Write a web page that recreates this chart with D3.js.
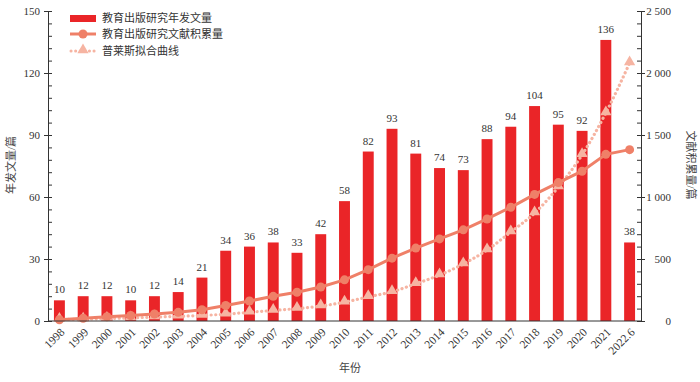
<!DOCTYPE html>
<html>
<head>
<meta charset="utf-8">
<script src="https://cdn.jsdelivr.net/npm/d3@7"></script>
<style>
  body { margin: 0; background: #fff; }
  svg { display: block; }
  text { font-family: "Liberation Serif", "Noto Sans CJK SC", serif; fill: #333; }
</style>
</head>
<body>
<svg id="chart" width="700" height="382"></svg>
<script>
// years on the x axis
var years = ["1998","1999","2000","2001","2002","2003","2004","2005","2006","2007","2008","2009","2010",
  "2011","2012","2013","2014","2015","2016","2017","2018","2019","2020","2021","2022.6"]
// papers published per year
var yearly = [10,12,12,10,12,14,21,34,36,38,33,42,58,82,93,81,74,73,88,94,104,95,92,136,38]
// cumulative papers
var cumulative = [10,22,34,44,56,70,91,125,161,199,232,274,332,414,507,588,662,735,823,917,1021,1116,1208,1344,1382]
// pearl curve fit
var pearl = [12,15,20,25,32,38,45,55,70,85,100,120,152,195,236,300,370,460,572,718,870,1080,1340,1678,2080]

var leftTicks = [0,30,60,90,120,150]
var rightTicks = [0,500,1000,1500,2000,2500]

var legendNames = ["教育出版研究年发文量", "教育出版研究文献积累量", "普莱斯拟合曲线"]

var barColor = "#ea2528"
var lineColor = "#ef8068"
var pearlColor = "#f6b4a2"

var svg = d3.select("#chart")
// plot edges (don't call these top/left - window.top is read only)
var pL = 48, pR = 641, pT = 11, pB = 321

var x = d3.scaleBand().domain(years).range([pL, pR]).paddingInner(0.54).paddingOuter(0.25)
var yL = d3.scaleLinear().domain([0, 150]).range([pB, pT])
var yR = d3.scaleLinear().domain([0, 2500]).range([pB, pT])
var cx = function(d) { return x(d) + x.bandwidth() / 2 }

// bars
svg.append("g").selectAll("rect")
  .data(yearly)
  .join("rect")
  .attr("x", function(d, i) { return x(years[i]) })
  .attr("y", function(d) { return yL(d) })
  .attr("width", x.bandwidth())
  .attr("height", function(d) { return pB - yL(d) })
  .attr("fill", barColor)

// value labels above the bars
svg.append("g").selectAll("text")
  .data(yearly)
  .join("text")
  .attr("x", function(d, i) { return cx(years[i]) })
  .attr("y", function(d) { return yL(d) - 7 })
  .attr("text-anchor", "middle")
  .style("font-size", "11px")
  .text(function(d) { return d })

// pearl curve - dotted
var pearlLine = d3.line().x(function(d, i) { return cx(years[i]) }).y(function(d) { return yR(d) }).curve(d3.curveMonotoneX)
svg.append("path")
  .attr("d", pearlLine(pearl))
  .attr("fill", "none")
  .attr("stroke", pearlColor)
  .attr("stroke-width", 3.2)
  .attr("stroke-linecap", "round")
  .attr("stroke-dasharray", "0.1,4.5")
svg.append("g").selectAll("path")
  .data(pearl)
  .join("path")
  .attr("d", d3.symbol().type(d3.symbolTriangle).size(55))
  .attr("transform", function(d, i) { return "translate(" + cx(years[i]) + "," + (yR(d) - 1) + ")" })
  .attr("fill", pearlColor)

// cumulative line
var cumLine = d3.line().x(function(d, i) { return cx(years[i]) }).y(function(d) { return yR(d) })
svg.append("path")
  .attr("d", cumLine(cumulative))
  .attr("fill", "none")
  .attr("stroke", lineColor)
  .attr("stroke-width", 3)
svg.append("g").selectAll("circle")
  .data(cumulative)
  .join("circle")
  .attr("cx", function(d, i) { return cx(years[i]) })
  .attr("cy", function(d) { return yR(d) })
  .attr("r", 4.5)
  .attr("fill", lineColor)

// axes
var leftAxis = svg.append("g").attr("transform", "translate(" + pL + ",0)")
leftAxis.call(d3.axisLeft(yL).tickValues(d3.range(0, 151, 6)).tickSize(0).tickFormat(""))
leftAxis.selectAll(".tick line").remove()
leftAxis.select(".domain").attr("stroke", "#333")
leftAxis.selectAll(".tick").append("line")
  .attr("x1", function(d) { return leftTicks.indexOf(d) >= 0 ? -4 : 0 })
  .attr("x2", 4).attr("stroke", "#333")
leftAxis.selectAll(".tick").filter(function(d) { return leftTicks.indexOf(d) >= 0 })
  .append("text").attr("x", -8).attr("dy", "0.35em").attr("text-anchor", "end")
  .style("font-size", "11px").text(function(d) { return d })

var fmt = function(d) { return d3.format(",")(d).replace(",", " ") }
var rightAxis = svg.append("g").attr("transform", "translate(" + pR + ",0)")
rightAxis.call(d3.axisRight(yR).tickValues(d3.range(0, 2501, 100)).tickSize(0).tickFormat(""))
rightAxis.selectAll(".tick line").remove()
rightAxis.select(".domain").attr("stroke", "#333")
rightAxis.selectAll(".tick").append("line")
  .attr("x1", -4)
  .attr("x2", function(d) { return rightTicks.indexOf(d) >= 0 ? 4 : 0 }).attr("stroke", "#333")
rightAxis.selectAll(".tick").filter(function(d) { return rightTicks.indexOf(d) >= 0 })
  .append("text").attr("x", 30).attr("dy", "0.35em").attr("text-anchor", "end")
  .style("font-size", "11px").text(fmt)

// x axis
svg.append("line").attr("x1", pL).attr("x2", pR).attr("y1", pB).attr("y2", pB).attr("stroke", "#333")
svg.append("g").selectAll("text")
  .data(years)
  .join("text")
  .attr("transform", function(d) { return "translate(" + (cx(d) + 3) + "," + (pB + 9) + ") rotate(-45)" })
  .attr("text-anchor", "end")
  .attr("dy", "0.35em")
  .style("font-size", "11.5px")
  .text(function(d) { return d })

// axis titles
svg.append("text").attr("x", 350).attr("y", 372).attr("text-anchor", "middle")
  .style("font-size", "11px").style("fill", "#444").text("年份")
svg.append("text").attr("transform", "translate(15,165) rotate(-90)").attr("text-anchor", "middle")
  .style("font-size", "11px").style("fill", "#444").text("年发文量/篇")
svg.append("text").attr("transform", "translate(687,165) rotate(90)").attr("text-anchor", "middle")
  .style("font-size", "11px").style("fill", "#444").text("文献积累量/篇")

// legend
var lg = svg.append("g").attr("transform", "translate(70,0)")
lg.append("rect").attr("x", 0).attr("y", 15).attr("width", 26).attr("height", 7).attr("fill", barColor)
lg.append("line").attr("x1", 0).attr("x2", 26).attr("y1", 34).attr("y2", 34).attr("stroke", lineColor).attr("stroke-width", 3)
lg.append("circle").attr("cx", 13).attr("cy", 34).attr("r", 4.5).attr("fill", lineColor)
lg.append("line").attr("x1", 1).attr("x2", 26).attr("y1", 51).attr("y2", 51).attr("stroke", pearlColor)
  .attr("stroke-width", 3).attr("stroke-linecap", "round").attr("stroke-dasharray", "0.1,4.5")
lg.append("path").attr("d", d3.symbol().type(d3.symbolTriangle).size(55)).attr("transform", "translate(13,50)").attr("fill", pearlColor)
lg.selectAll(".lt")
  .data(legendNames)
  .join("text")
  .attr("x", 32)
  .attr("y", function(d, i) { return 18 + i * 16.5 })
  .attr("dy", "0.35em")
  .style("font-size", "11px")
  .text(function(d) { return d })
</script>
</body>
</html>
